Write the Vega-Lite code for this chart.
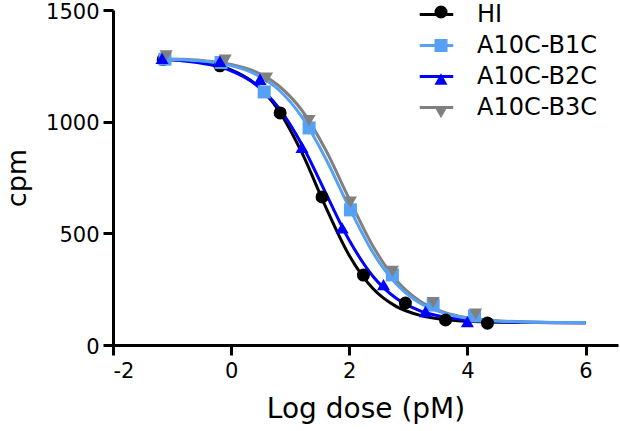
{
  "$schema": "https://vega.github.io/schema/vega-lite/v6.json",
  "width": 505,
  "height": 335,
  "autosize": {"type": "none"},
  "padding": {"left": 113, "top": 10, "right": 2, "bottom": 86},
  "background": "white",
  "config": {
    "view": {"stroke": null},
    "font": "DejaVu Sans",
    "axis": {
      "grid": false,
      "domainColor": "black",
      "domainWidth": 3,
      "tickColor": "black",
      "tickWidth": 3,
      "tickSize": 10,
      "labelColor": "black",
      "labelFont": "DejaVu Sans",
      "labelFontSize": 21,
      "titleFont": "DejaVu Sans",
      "titleFontSize": 27,
      "titleFontWeight": "normal",
      "titleColor": "black"
    },
    "legend": {
      "labelFont": "DejaVu Sans",
      "labelFontSize": 24,
      "labelColor": "black"
    }
  },
  "datasets": {
    "curves": [
      {"series": "HI", "x": -1.2, "y": 1280}, {"series": "HI", "x": -0.8, "y": 1275}, {"series": "HI", "x": -0.4, "y": 1261}, {"series": "HI", "x": 0, "y": 1232}, {"series": "HI", "x": 0.4, "y": 1171}, {"series": "HI", "x": 0.8, "y": 1052}, {"series": "HI", "x": 1.2, "y": 860}, {"series": "HI", "x": 1.6, "y": 619}, {"series": "HI", "x": 2.0, "y": 401}, {"series": "HI", "x": 2.4, "y": 253}, {"series": "HI", "x": 2.8, "y": 172}, {"series": "HI", "x": 3.2, "y": 133}, {"series": "HI", "x": 3.6, "y": 114}, {"series": "HI", "x": 4.0, "y": 106}, {"series": "HI", "x": 4.5, "y": 102}, {"series": "HI", "x": 5.0, "y": 101}, {"series": "HI", "x": 5.5, "y": 100}, {"series": "HI", "x": 6.0, "y": 100},
      {"series": "A10C-B2C", "x": -1.2, "y": 1279}, {"series": "A10C-B2C", "x": -0.8, "y": 1272}, {"series": "A10C-B2C", "x": -0.4, "y": 1257}, {"series": "A10C-B2C", "x": 0, "y": 1228}, {"series": "A10C-B2C", "x": 0.4, "y": 1170}, {"series": "A10C-B2C", "x": 0.8, "y": 1064}, {"series": "A10C-B2C", "x": 1.2, "y": 897}, {"series": "A10C-B2C", "x": 1.6, "y": 681}, {"series": "A10C-B2C", "x": 2.0, "y": 469}, {"series": "A10C-B2C", "x": 2.4, "y": 308}, {"series": "A10C-B2C", "x": 2.8, "y": 208}, {"series": "A10C-B2C", "x": 3.2, "y": 153}, {"series": "A10C-B2C", "x": 3.6, "y": 126}, {"series": "A10C-B2C", "x": 4.0, "y": 112}, {"series": "A10C-B2C", "x": 4.5, "y": 105}, {"series": "A10C-B2C", "x": 5.0, "y": 102}, {"series": "A10C-B2C", "x": 5.5, "y": 101}, {"series": "A10C-B2C", "x": 6.0, "y": 100},
      {"series": "A10C-B3C", "x": -1.2, "y": 1282}, {"series": "A10C-B3C", "x": -0.8, "y": 1279}, {"series": "A10C-B3C", "x": -0.4, "y": 1271}, {"series": "A10C-B3C", "x": 0, "y": 1256}, {"series": "A10C-B3C", "x": 0.4, "y": 1225}, {"series": "A10C-B3C", "x": 0.8, "y": 1162}, {"series": "A10C-B3C", "x": 1.2, "y": 1050}, {"series": "A10C-B3C", "x": 1.6, "y": 874}, {"series": "A10C-B3C", "x": 2.0, "y": 653}, {"series": "A10C-B3C", "x": 2.4, "y": 443}, {"series": "A10C-B3C", "x": 2.8, "y": 289}, {"series": "A10C-B3C", "x": 3.2, "y": 196}, {"series": "A10C-B3C", "x": 3.6, "y": 147}, {"series": "A10C-B3C", "x": 4.0, "y": 122}, {"series": "A10C-B3C", "x": 4.5, "y": 109}, {"series": "A10C-B3C", "x": 5.0, "y": 103}, {"series": "A10C-B3C", "x": 5.5, "y": 101}, {"series": "A10C-B3C", "x": 6.0, "y": 101},
      {"series": "A10C-B1C", "x": -1.2, "y": 1281}, {"series": "A10C-B1C", "x": -0.8, "y": 1277}, {"series": "A10C-B1C", "x": -0.4, "y": 1269}, {"series": "A10C-B1C", "x": 0, "y": 1251}, {"series": "A10C-B1C", "x": 0.4, "y": 1214}, {"series": "A10C-B1C", "x": 0.8, "y": 1144}, {"series": "A10C-B1C", "x": 1.2, "y": 1020}, {"series": "A10C-B1C", "x": 1.6, "y": 835}, {"series": "A10C-B1C", "x": 2.0, "y": 615}, {"series": "A10C-B1C", "x": 2.4, "y": 414}, {"series": "A10C-B1C", "x": 2.8, "y": 272}, {"series": "A10C-B1C", "x": 3.2, "y": 187}, {"series": "A10C-B1C", "x": 3.6, "y": 143}, {"series": "A10C-B1C", "x": 4.0, "y": 120}, {"series": "A10C-B1C", "x": 4.5, "y": 108}, {"series": "A10C-B1C", "x": 5.0, "y": 103}, {"series": "A10C-B1C", "x": 5.5, "y": 101}, {"series": "A10C-B1C", "x": 6.0, "y": 101}
    ],
    "points": [
      {"series": "HI", "x": -1.15, "y": 1278}, {"series": "HI", "x": -0.19, "y": 1250}, {"series": "HI", "x": 0.83, "y": 1039}, {"series": "HI", "x": 1.54, "y": 663}, {"series": "HI", "x": 2.24, "y": 313}, {"series": "HI", "x": 2.95, "y": 188}, {"series": "HI", "x": 3.63, "y": 112}, {"series": "HI", "x": 4.34, "y": 98},
      {"series": "A10C-B1C", "x": -1.12, "y": 1280}, {"series": "A10C-B1C", "x": -0.17, "y": 1265}, {"series": "A10C-B1C", "x": 0.56, "y": 1133}, {"series": "A10C-B1C", "x": 1.32, "y": 972}, {"series": "A10C-B1C", "x": 2.02, "y": 605}, {"series": "A10C-B1C", "x": 2.73, "y": 314}, {"series": "A10C-B1C", "x": 3.42, "y": 179}, {"series": "A10C-B1C", "x": 4.12, "y": 130},
      {"series": "A10C-B3C", "x": -1.1, "y": 1295}, {"series": "A10C-B3C", "x": -0.1, "y": 1275}, {"series": "A10C-B3C", "x": 0.6, "y": 1195}, {"series": "A10C-B3C", "x": 1.32, "y": 1005}, {"series": "A10C-B3C", "x": 2.02, "y": 640}, {"series": "A10C-B3C", "x": 2.73, "y": 330}, {"series": "A10C-B3C", "x": 3.42, "y": 190}, {"series": "A10C-B3C", "x": 4.14, "y": 138},
      {"series": "A10C-B2C", "x": -1.17, "y": 1283}, {"series": "A10C-B2C", "x": -0.19, "y": 1270}, {"series": "A10C-B2C", "x": 0.49, "y": 1190}, {"series": "A10C-B2C", "x": 1.2, "y": 885}, {"series": "A10C-B2C", "x": 1.88, "y": 524}, {"series": "A10C-B2C", "x": 2.58, "y": 270}, {"series": "A10C-B2C", "x": 3.29, "y": 150}, {"series": "A10C-B2C", "x": 4.0, "y": 105}
    ]
  },
  "layer": [
    {
      "data": {"name": "curves"},
      "mark": {"type": "line", "strokeWidth": 3, "interpolate": "monotone"},
      "encoding": {
        "x": {"field": "x", "type": "quantitative", "scale": {"domain": [-2, 6.55], "nice": false}, "axis": {"values": [-2, 0, 2, 4, 6], "labelExpr": "'' + datum.value", "title": "Log dose (pM)", "titleFontSize": 28, "labelPadding": 5, "titlePadding": 14}},
        "y": {"field": "y", "type": "quantitative", "scale": {"domain": [0, 1500], "nice": false}, "axis": {"values": [0, 500, 1000, 1500], "labelExpr": "'' + datum.value", "title": "cpm", "labelPadding": 4, "labelOffset": 2, "titlePadding": 14}},
        "stroke": {
          "field": "series", "type": "nominal",
          "sort": ["HI", "A10C-B1C", "A10C-B2C", "A10C-B3C"],
          "scale": {"range": ["#000000", "#56A0F5", "#0000FF", "#808080"]},
          "legend": {"title": null, "orient": "none", "legendX": 305, "legendY": -14, "symbolType": "stroke", "symbolSize": 1122, "symbolStrokeWidth": 3, "labelOffset": 22, "rowPadding": 0}
        }
      }
    },
    {
      "data": {"name": "points"},
      "mark": {"type": "point", "filled": true, "opacity": 1, "strokeWidth": 0, "size": 170},
      "encoding": {
        "x": {"field": "x", "type": "quantitative"},
        "y": {"field": "y", "type": "quantitative"},
        "fill": {
          "field": "series", "type": "nominal",
          "scale": {"domain": ["HI", "A10C-B1C", "A10C-B2C", "A10C-B3C"], "range": ["#000000", "#56A0F5", "#0000FF", "#808080"]},
          "legend": {"title": null, "orient": "none", "legendX": 316, "legendY": -10, "symbolSize": 170, "labelOffset": 22, "rowPadding": 9.5, "labelExpr": "''"}
        },
        "shape": {
          "field": "series", "type": "nominal",
          "scale": {"domain": ["HI", "A10C-B1C", "A10C-B2C", "A10C-B3C"], "range": ["circle", "square", "triangle-up", "triangle-down"]},
          "legend": {"title": null, "orient": "none", "legendX": 316, "legendY": -10, "symbolSize": 170, "labelOffset": 22, "rowPadding": 9.5, "labelExpr": "''"}
        }
      }
    }
  ]
}
